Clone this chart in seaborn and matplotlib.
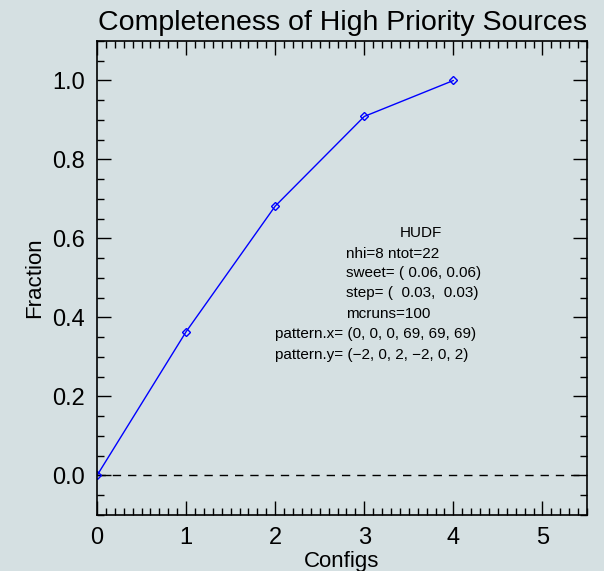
import matplotlib
matplotlib.use("Agg")
import matplotlib.pyplot as plt
from matplotlib.ticker import MultipleLocator
import seaborn as sns
import pandas as pd

configs = [0, 1, 2, 3, 4]
fraction = [0.0, 0.364, 0.682, 0.909, 1.0]

info_title = "HUDF"
info_lines = ["nhi=8 ntot=22", "sweet= ( 0.06, 0.06)", "step= (  0.03,  0.03)", "mcruns=100"]
pattern_lines = ["pattern.x= (0, 0, 0, 69, 69, 69)", "pattern.y= (\u22122, 0, 2, \u22122, 0, 2)"]

bg = "#d5e0e2"
sns.set_theme(style="ticks")
plt.rcParams['font.family'] = ['Liberation Sans', 'DejaVu Sans']

fig = plt.figure(figsize=(6.04, 5.71), dpi=100, facecolor=bg)
ax = fig.add_axes([0.1606, 0.0981, 0.8113, 0.8301])
ax.set_facecolor(bg)

df = pd.DataFrame({"Configs": configs, "Fraction": fraction})
ax.axhline(0, color="black", lw=1, ls=(0, (6, 5)))
sns.lineplot(data=df, x="Configs", y="Fraction", ax=ax, color="#0000ff", lw=1,
             marker="D", markersize=4.5, markerfacecolor="none", markeredgecolor="#0000ff",
             markeredgewidth=1)

ax.set_xlim(0, 5.5)
ax.set_ylim(-0.1, 1.1)
ax.xaxis.set_major_locator(MultipleLocator(1))
ax.xaxis.set_minor_locator(MultipleLocator(0.1))
ax.yaxis.set_major_locator(MultipleLocator(0.2))
ax.yaxis.set_minor_locator(MultipleLocator(0.05))
ax.set_xticks([0, 1, 2, 3, 4, 5])
ax.set_xticklabels(["0", "1", "2", "3", "4", "5"])
ax.set_yticks([0.0, 0.2, 0.4, 0.6, 0.8, 1.0])
ax.set_yticklabels(["0.0", "0.2", "0.4", "0.6", "0.8", "1.0"])
ax.tick_params(which="both", direction="in", top=True, right=True, color="black",
               labelsize=17, labelcolor="black")
ax.tick_params(which="major", length=10, width=1, pad=9)
ax.tick_params(which="minor", length=5, width=1)
for s in ax.spines.values():
    s.set_color("black")
    s.set_linewidth(1.2)

ax.set_xlabel("Configs", fontsize=16, color="black", labelpad=1)
ax.set_ylabel("Fraction", fontsize=16, color="black", labelpad=5)
ax.set_title("Completeness of High Priority Sources", fontsize=20.5, color="black", pad=8)

ax.text(3.63, 0.613, info_title, fontsize=11, ha="center", va="center", color="black")
ys = [0.562, 0.512, 0.461, 0.41]
for t, y in zip(info_lines, ys):
    ax.text(2.79, y, t, fontsize=11, ha="left", va="center", color="black")
for t, y in zip(pattern_lines, [0.358, 0.306]):
    ax.text(2.0, y, t, fontsize=11, ha="left", va="center", color="black")

fig.savefig("out.png", dpi=100, facecolor=bg)
